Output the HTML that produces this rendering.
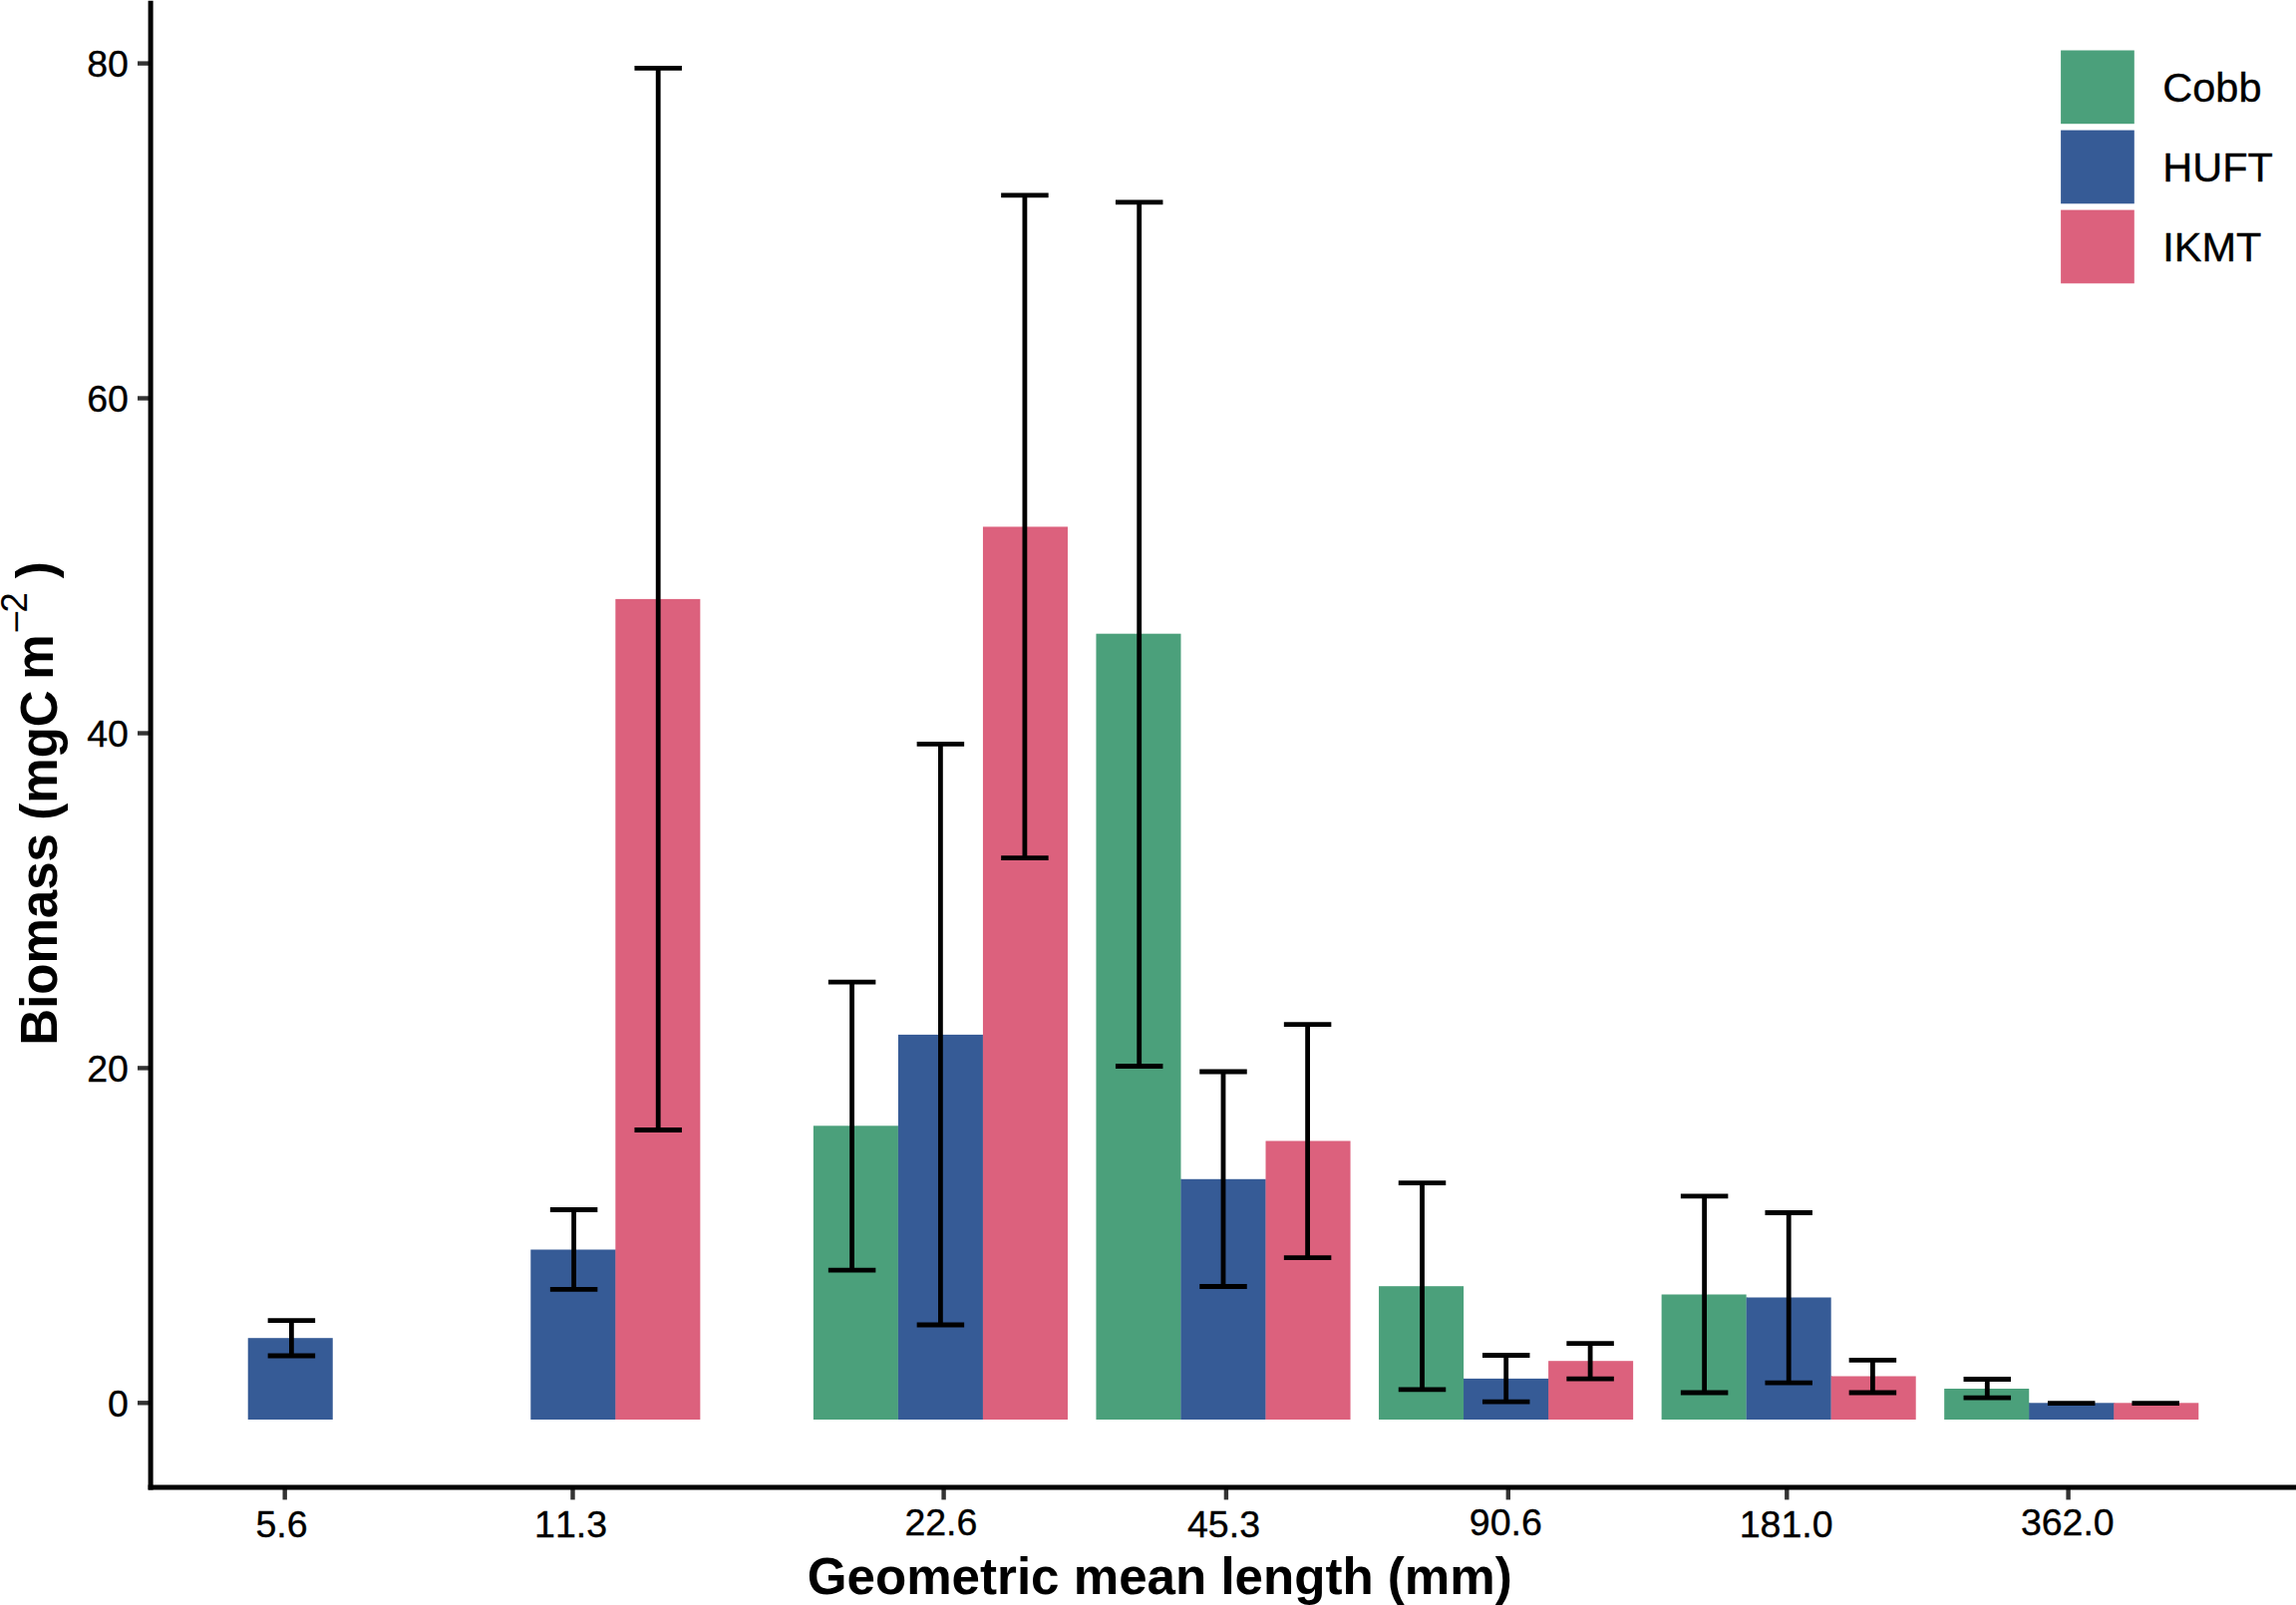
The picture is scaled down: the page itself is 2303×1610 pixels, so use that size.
<!DOCTYPE html>
<html lang="en">
<head>
<meta charset="utf-8">
<title>Biomass by geometric mean length</title>
<style>
html,body{margin:0;padding:0;background:#fff;}
body{width:2303px;height:1610px;overflow:hidden;}
svg{display:block;}
text{font-family:"Liberation Sans",Arial,Helvetica,sans-serif;fill:#000;font-kerning:none;}
.tk{font-size:37.5px;stroke:#000;stroke-width:0.35px;}
.lg{font-size:41.5px;stroke:#000;stroke-width:0.35px;}
.ti{font-size:51px;font-weight:bold;}
.sup{font-size:36.5px;}
</style>
</head>
<body>
<svg width="2303" height="1610" viewBox="0 0 2303 1610">
<rect x="0" y="0" width="2303" height="1610" fill="#ffffff"/>
<g>
<rect x="248.72" y="1342.2" width="85.03" height="81.8" fill="#365B96"/>
<rect x="532.30" y="1253.5" width="85.03" height="170.5" fill="#365B96"/>
<rect x="617.32" y="1253.5" width="1" height="170.5" fill="#365B96"/>
<rect x="617.33" y="600.9" width="85.03" height="823.1" fill="#DC617D"/>
<rect x="815.88" y="1129.3" width="85.03" height="294.7" fill="#4BA07B"/>
<rect x="900.90" y="1129.3" width="1" height="294.7" fill="#4BA07B"/>
<rect x="900.91" y="1037.9" width="85.03" height="386.1" fill="#365B96"/>
<rect x="985.93" y="1037.9" width="1" height="386.1" fill="#365B96"/>
<rect x="985.94" y="528.4" width="85.03" height="895.6" fill="#DC617D"/>
<rect x="1099.46" y="635.7" width="85.03" height="788.3" fill="#4BA07B"/>
<rect x="1184.48" y="1182.8" width="1" height="241.2" fill="#4BA07B"/>
<rect x="1184.49" y="1182.8" width="85.03" height="241.2" fill="#365B96"/>
<rect x="1269.51" y="1182.8" width="1" height="241.2" fill="#365B96"/>
<rect x="1269.52" y="1144.5" width="85.03" height="279.5" fill="#DC617D"/>
<rect x="1383.04" y="1290.2" width="85.03" height="133.8" fill="#4BA07B"/>
<rect x="1468.06" y="1382.9" width="1" height="41.1" fill="#4BA07B"/>
<rect x="1468.07" y="1382.9" width="85.03" height="41.1" fill="#365B96"/>
<rect x="1553.09" y="1382.9" width="1" height="41.1" fill="#365B96"/>
<rect x="1553.10" y="1365.2" width="85.03" height="58.8" fill="#DC617D"/>
<rect x="1666.62" y="1298.5" width="85.03" height="125.5" fill="#4BA07B"/>
<rect x="1751.64" y="1301.5" width="1" height="122.5" fill="#4BA07B"/>
<rect x="1751.65" y="1301.5" width="85.03" height="122.5" fill="#365B96"/>
<rect x="1836.67" y="1380.5" width="1" height="43.5" fill="#365B96"/>
<rect x="1836.68" y="1380.5" width="85.03" height="43.5" fill="#DC617D"/>
<rect x="1950.20" y="1393.0" width="85.03" height="31.0" fill="#4BA07B"/>
<rect x="2035.22" y="1407.3" width="1" height="16.7" fill="#4BA07B"/>
<rect x="2035.23" y="1407.3" width="85.03" height="16.7" fill="#365B96"/>
<rect x="2120.25" y="1407.3" width="1" height="16.7" fill="#365B96"/>
<rect x="2120.26" y="1407.3" width="85.03" height="16.7" fill="#DC617D"/>
</g>
<g stroke="#000" stroke-width="4.8" fill="none" stroke-linecap="butt">
<path d="M268.65 1324.7H316.15M292.4 1324.7V1360.0M268.65 1360.0H316.15"/>
<path d="M551.85 1213.5H599.35M575.6 1213.5V1293.3M551.85 1293.3H599.35"/>
<path d="M636.45 68.4H683.95M660.2 68.4V1133.5M636.45 1133.5H683.95"/>
<path d="M830.85 985.1H878.35M854.6 985.1V1274.1M830.85 1274.1H878.35"/>
<path d="M919.65 746.3H967.15M943.4 746.3V1329.0M919.65 1329.0H967.15"/>
<path d="M1004.15 195.9H1051.65M1027.9 195.9V860.7M1004.15 860.7H1051.65"/>
<path d="M1118.95 202.9H1166.45M1142.7 202.9V1069.5M1118.95 1069.5H1166.45"/>
<path d="M1203.25 1075.0H1250.75M1227.0 1075.0V1290.5M1203.25 1290.5H1250.75"/>
<path d="M1287.85 1027.7H1335.35M1311.6 1027.7V1261.6M1287.85 1261.6H1335.35"/>
<path d="M1402.75 1186.6H1450.25M1426.5 1186.6V1393.9M1402.75 1393.9H1450.25"/>
<path d="M1486.95 1359.5H1534.45M1510.7 1359.5V1406.1M1486.95 1406.1H1534.45"/>
<path d="M1571.35 1347.6H1618.85M1595.1 1347.6V1383.2M1571.35 1383.2H1618.85"/>
<path d="M1685.85 1199.8H1733.35M1709.6 1199.8V1397.0M1685.85 1397.0H1733.35"/>
<path d="M1770.45 1216.5H1817.95M1794.2 1216.5V1387.2M1770.45 1387.2H1817.95"/>
<path d="M1854.65 1364.3H1902.15M1878.4 1364.3V1397.0M1854.65 1397.0H1902.15"/>
<path d="M1969.55 1383.5H2017.05M1993.3 1383.5V1402.1M1969.55 1402.1H2017.05"/>
<path d="M2053.95 1407.6H2101.45M2077.7 1407.6V1407.6M2053.95 1407.6H2101.45"/>
<path d="M2138.45 1407.6H2185.95M2162.2 1407.6V1407.6M2138.45 1407.6H2185.95"/>
</g>
<g stroke="#333" stroke-width="4.4" fill="none">
<path d="M138 63.6H149"/>
<path d="M138 399.5H149"/>
<path d="M138 735.5H149"/>
<path d="M138 1071.4H149"/>
<path d="M138 1407.3H149"/>
<path d="M285.7 1494V1504.4"/>
<path d="M574.5 1494V1504.4"/>
<path d="M946.6 1494V1504.4"/>
<path d="M1229.9 1494V1504.4"/>
<path d="M1512.8 1494V1504.4"/>
<path d="M1792.3 1494V1504.4"/>
<path d="M2074.6 1494V1504.4"/>
</g>
<g stroke="#000" stroke-width="5" fill="none" stroke-linecap="butt">
<path d="M151.1 0.7V1494.5"/>
<path d="M148.6 1492H2303"/>
</g>
<text class="tk" x="128.9" y="77.2" text-anchor="end">80</text>
<text class="tk" x="128.9" y="413.1" text-anchor="end">60</text>
<text class="tk" x="128.9" y="749.1" text-anchor="end">40</text>
<text class="tk" x="128.9" y="1085.0" text-anchor="end">20</text>
<text class="tk" x="128.9" y="1420.9" text-anchor="end">0</text>
<text class="tk" x="282.5" y="1541.6" text-anchor="middle">5.6</text>
<text class="tk" x="572.6" y="1541.6" text-anchor="middle">11.3</text>
<text class="tk" x="943.9" y="1539.8" text-anchor="middle">22.6</text>
<text class="tk" x="1227.5" y="1541.6" text-anchor="middle">45.3</text>
<text class="tk" x="1510.3" y="1539.8" text-anchor="middle">90.6</text>
<text class="tk" x="1791.7" y="1541.6" text-anchor="middle">181.0</text>
<text class="tk" x="2073.8" y="1539.8" text-anchor="middle">362.0</text>
<rect x="2067.1" y="50.5" width="73.7" height="73.7" fill="#4BA07B"/>
<text class="lg" x="2169.3" y="102.3">Cobb</text>
<rect x="2067.1" y="130.6" width="73.7" height="73.7" fill="#365B96"/>
<text class="lg" x="2169.3" y="182.4">HUFT</text>
<rect x="2067.1" y="210.6" width="73.7" height="73.7" fill="#DC617D"/>
<text class="lg" x="2169.3" y="262.4">IKMT</text>
<text class="ti" style="font-size:51.1px" x="809.8" y="1599.1">Geometric mean length (mm)</text>
<g transform="translate(57.4 1048.7) rotate(-90)">
<text class="ti" x="0" y="0">Biomass</text>
<text class="ti" x="226.0" y="0">(mgC</text>
<text class="ti" x="367" y="-4.4">m</text>
<text class="sup" transform="translate(413.2 -28.0) scale(1.1 1)">−</text>
<text class="sup" x="434.3" y="-30.2">2</text>
<text class="ti" x="468.5" y="-4.4">)</text>
</g>
</svg>
</body>
</html>
